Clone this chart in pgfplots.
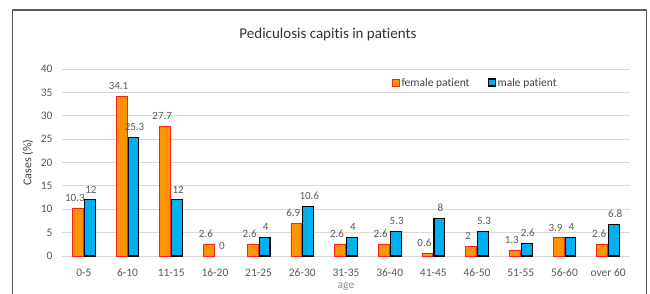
\documentclass[border=0pt]{standalone}
\usepackage{pgfplots}
\pgfplotsset{compat=1.18}
\usepackage{fontspec}
\setmainfont{Carlito}[Ligatures={NoCommon}]
\definecolor{fem}{RGB}{255,148,0}
\definecolor{femedge}{RGB}{255,30,30}
\definecolor{mal}{RGB}{0,176,240}
\definecolor{gridc}{RGB}{217,217,217}
\definecolor{txt}{RGB}{89,89,89}
\begin{document}
\begin{tikzpicture}[x=1pt,y=1pt]
\useasboundingbox (0,0) rectangle (650,293);
\draw[color={rgb,255:red,90;green,90;blue,90}, line width=1.1pt] (12.5,-10) -- (12.5,283) -- (646.5,283) -- (646.5,-10);
\node[font=\fontsize{15}{17}\selectfont, text={rgb,255:red,50;green,50;blue,50}] at (328,259) {Pediculosis capitis in patients};
\begin{axis}[
  at={(62pt,37pt)}, anchor=south west,
  scale only axis, width=568pt, height=187pt,
  xmin=-0.5, xmax=12.5, ymin=0, ymax=40,
  axis line style={draw=none},
  ymajorgrids, grid style={gridc, line width=0.8pt},
  ytick={0,5,...,40},
  xtick={0,...,12},
  xticklabels={0-5,6-10,11-15,16-20,21-25,26-30,31-35,36-40,41-45,46-50,51-55,56-60,over 60},
  tick style={draw=none},
  /pgf/number format/assume math mode=true,
  ticklabel style={font=\fontsize{11.5}{13}\selectfont, text=txt},
  yticklabel style={xshift=-6pt},
  xticklabel style={yshift=-5pt},
  xlabel={age}, xlabel style={font=\fontsize{11.5}{13}\selectfont, text={rgb,255:red,140;green,140;blue,140},
     at={(axis description cs:0.5,0)}, anchor=center, yshift=-31pt},
  ylabel={Cases (\%)}, ylabel style={font=\fontsize{12}{14}\selectfont, text={rgb,255:red,64;green,64;blue,64}, yshift=1pt},
  ybar, bar width=10.8pt,
  nodes near coords,
  every node near coord/.append style={font=\fontsize{11}{13}\selectfont, text=txt, yshift=3pt},
  legend style={at={(0.575,0.925)}, anchor=west, draw=none, fill=none, legend columns=2,
    font=\fontsize{11.5}{13}\selectfont, text={rgb,255:red,64;green,64;blue,64},
    /tikz/every even column/.append style={column sep=16pt}},
  legend image code/.code={\draw[#1] (0pt,-3pt) rectangle (7pt,4pt);},
]
\addplot+[bar shift=-6pt, fill=fem, draw=femedge, line width=0.7pt,
  every node near coord/.append style={xshift=-3pt}] coordinates {
(0,10.3) (1,34.1) (2,27.7) (3,2.6) (4,2.6) (5,6.9) (6,2.6) (7,2.6) (8,0.6) (9,2) (10,1.3) (11,3.9) (12,2.6)};
\addplot+[bar shift=6pt, fill=mal, draw=black, line width=1.1pt,
  every node near coord/.append style={xshift=1pt}] coordinates {
(0,12) (1,25.3) (2,12) (4,4) (5,10.6) (6,4) (7,5.3) (8,8) (9,5.3) (10,2.6) (11,4) (12,6.8)};
\addplot+[forget plot, bar shift=6pt, fill=none, draw=none,
  every node near coord/.append style={xshift=1pt}] coordinates {(3,0)};
\legend{female patient, male patient}
\end{axis}
\end{tikzpicture}
\end{document}
